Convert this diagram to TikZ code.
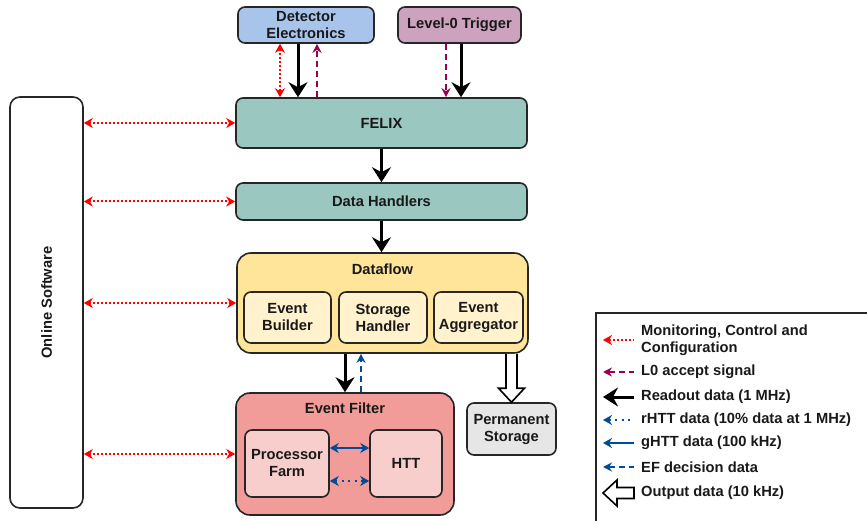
\documentclass[tikz,border=0pt]{standalone}
\usepackage{fontspec}
\setmainfont{Liberation Sans}
\usetikzlibrary{arrows.meta, positioning}
\definecolor{felixgreen}{HTML}{9AC7BF}
\definecolor{detblue}{HTML}{A9C4EB}
\definecolor{trigmauve}{HTML}{CDA2BE}
\definecolor{dfyellow}{HTML}{FFE599}
\definecolor{dflight}{HTML}{FFF2CC}
\definecolor{efred}{HTML}{F19C99}
\definecolor{eflight}{HTML}{F8CECC}
\definecolor{storegray}{HTML}{E6E6E6}
\definecolor{lzero}{HTML}{99004D}
\definecolor{htt}{HTML}{004C99}

\begin{document}
\begin{tikzpicture}[x=1pt, y=-1pt,
    txt/.style={font=\fontsize{14.7}{17}\selectfont\bfseries, text=black!90},
    box/.style={txt, draw=black!85, line width=1.6pt, rounded corners=7pt, align=center, inner sep=0pt},
    mcc/.style={red, line width=2pt, dash pattern=on 2pt off 2pt, {Stealth[length=9pt,width=10pt]}-{Stealth[length=9pt,width=10pt]}},
    lzsig/.style={lzero, line width=2pt, dash pattern=on 6pt off 4pt, -{Stealth[length=9pt,width=9pt]}},
    readout/.style={black, line width=3pt, -{Stealth[length=15pt,width=19pt,inset=5pt]}},
    rhtt/.style={htt, line width=2pt, dash pattern=on 2pt off 4.5pt, {Stealth[length=9pt,width=10pt]}-{Stealth[length=9pt,width=10pt]}},
    ghtt/.style={htt, line width=2pt, {Stealth[length=9pt,width=10pt]}-{Stealth[length=9pt,width=10pt]}},
    efdec/.style={htt, line width=2pt, dash pattern=on 6pt off 4pt, -{Stealth[length=9pt,width=9pt]}},
    hollow/.style={draw=black, fill=white, line width=1.6pt, line join=miter}]
    \useasboundingbox (0,0) rectangle (867,521);

    % Sources
    \node[box, fill=detblue, minimum width=136pt, minimum height=36pt] (detel) at (306,25) {Detector\\Electronics};
    \node[box, fill=trigmauve, minimum width=123pt, minimum height=36pt] (lvl0) at (459.5,25) {Level-0 Trigger};

    % Readout chain
    \node[box, fill=felixgreen, minimum width=291pt, minimum height=50pt] (felix) at (381.5,123) {FELIX};
    \node[box, fill=felixgreen, minimum width=291pt, minimum height=37pt] (dh) at (381.5,201.5) {Data Handlers};

    % Dataflow
    \node[box, fill=dfyellow, rounded corners=14pt, minimum width=291pt, minimum height=100pt] (df) at (382.5,303) {};
    \node[txt] (dftitle) at (382.5,269) {Dataflow};
    \node[box, fill=dflight, minimum width=87pt, minimum height=51pt] (eb) at (287.5,317.5) {Event\\Builder};
    \node[box, fill=dflight, minimum width=88pt, minimum height=51pt] (sh) at (383,317.5) {Storage\\Handler};
    \node[box, fill=dflight, minimum width=89pt, minimum height=51pt] (ea) at (478.5,317.5) {Event\\Aggregator};

    % Event Filter
    \node[box, fill=efred, rounded corners=14pt, minimum width=218pt, minimum height=122pt] (ef) at (345,454) {};
    \node[txt] (eftitle) at (345,408) {Event Filter};
    \node[box, fill=eflight, minimum width=84pt, minimum height=67pt] (pf) at (287,463.5) {Processor\\Farm};
    \node[box, fill=eflight, minimum width=72pt, minimum height=67pt] (httbox) at (406,463.5) {HTT};

    \node[box, fill=storegray, minimum width=89pt, minimum height=52pt] (store) at (511.5,429) {Permanent\\Storage};

    % Online Software
    \node[box, fill=white, rounded corners=10pt, minimum width=73pt, minimum height=411pt] (online) at (46.5,302.5) {};
    \node[txt, rotate=90] (onlinetxt) at (online.center) {Online Software};

    % Connections
    \draw[mcc] ([xshift=-26pt]detel.south) -- ([xshift=-26pt]detel.south |- felix.north);
    \draw[readout] ([xshift=-8pt]detel.south) -- ([xshift=-8pt]detel.south |- felix.north);
    \draw[lzsig] ([xshift=11pt]detel.south |- felix.north) -- ([xshift=11pt]detel.south);
    \draw[lzsig] ([xshift=-13.5pt]lvl0.south) -- ([xshift=-13.5pt]lvl0.south |- felix.north);
    \draw[readout] ([xshift=1.5pt]lvl0.south) -- ([xshift=1.5pt]lvl0.south |- felix.north);

    \draw[readout] (felix.south) -- (dh.north);
    \draw[readout] (dh.south) -- (dh.south |- df.north);
    \draw[readout] (ef.north |- df.south) -- (ef.north);
    \draw[efdec] ([xshift=16pt]ef.north) -- ([xshift=16pt]ef.north |- df.south);

    \draw[ghtt] ([yshift=15.5pt]pf.east) -- ([yshift=15.5pt]pf.east -| httbox.west);
    \draw[rhtt] ([yshift=-17.5pt]pf.east) -- ([yshift=-17.5pt]pf.east -| httbox.west);

    \draw[hollow] ([xshift=-5.5pt]store.north |- df.south) -- ([xshift=-5.5pt,yshift=14pt]store.north)
        -- ([xshift=-13pt,yshift=14pt]store.north) -- (store.north) -- ([xshift=13pt,yshift=14pt]store.north)
        -- ([xshift=5.5pt,yshift=14pt]store.north) -- ([xshift=5.5pt]store.north |- df.south);

    \draw[mcc] (online.east |- felix.west) -- (felix.west);
    \draw[mcc] (online.east |- dh.west) -- (dh.west);
    \draw[mcc] (online.east |- df.west) -- (df.west);
    \draw[mcc] (online.east |- ef.west) -- (ef.west);

    % Legend
    \draw[black!85, line width=1.2pt] (596,521) |- (867,313);
    \node[txt, anchor=west, align=left, inner sep=0pt] (lmcc) at (641,340) {Monitoring, Control and\\Configuration};
    \node[txt, anchor=west, inner sep=0pt] (llz) at (641,372) {L0 accept signal};
    \node[txt, anchor=west, inner sep=0pt] (lro) at (641,397) {Readout data (1 MHz)};
    \node[txt, anchor=west, inner sep=0pt] (lrhtt) at (641,420) {rHTT data (10\% data at 1 MHz)};
    \node[txt, anchor=west, inner sep=0pt] (lghtt) at (641,443) {gHTT data (100 kHz)};
    \node[txt, anchor=west, inner sep=0pt] (lef) at (641,467) {EF decision data};
    \node[txt, anchor=west, inner sep=0pt] (lout) at (641,493) {Output data (10 kHz)};
    \coordinate (tmcc) at (603,340);
    \coordinate (tlz) at (603,372);
    \coordinate (tro) at (603,397);
    \coordinate (trhtt) at (603,420);
    \coordinate (tghtt) at (603,443);
    \coordinate (tef) at (603,467);
    \coordinate (tout) at (603,493);
    \draw[mcc, {Stealth[length=9pt,width=10pt]}-] (tmcc) -- ([xshift=-7pt]lmcc.west);
    \draw[lzsig, {Stealth[length=9pt,width=9pt]}-] (tlz) -- ([xshift=-7pt]llz.west);
    \draw[readout, {Stealth[length=15pt,width=19pt,inset=5pt]}-] (tro) -- ([xshift=-7pt]lro.west);
    \draw[rhtt, {Stealth[length=9pt,width=10pt]}-] (trhtt) -- ([xshift=-7pt]lrhtt.west);
    \draw[ghtt, {Stealth[length=9pt,width=10pt]}-] (tghtt) -- ([xshift=-7pt]lghtt.west);
    \draw[efdec, {Stealth[length=9pt,width=9pt]}-] (tef) -- ([xshift=-7pt]lef.west);
    \draw[hollow] ([xshift=-7pt,yshift=5.5pt]lout.west) -- ([xshift=14pt,yshift=5.5pt]tout)
        -- ([xshift=14pt,yshift=13pt]tout) -- (tout) -- ([xshift=14pt,yshift=-13pt]tout)
        -- ([xshift=14pt,yshift=-5.5pt]tout) -- ([xshift=-7pt,yshift=-5.5pt]lout.west) -- cycle;
\end{tikzpicture}
\end{document}
